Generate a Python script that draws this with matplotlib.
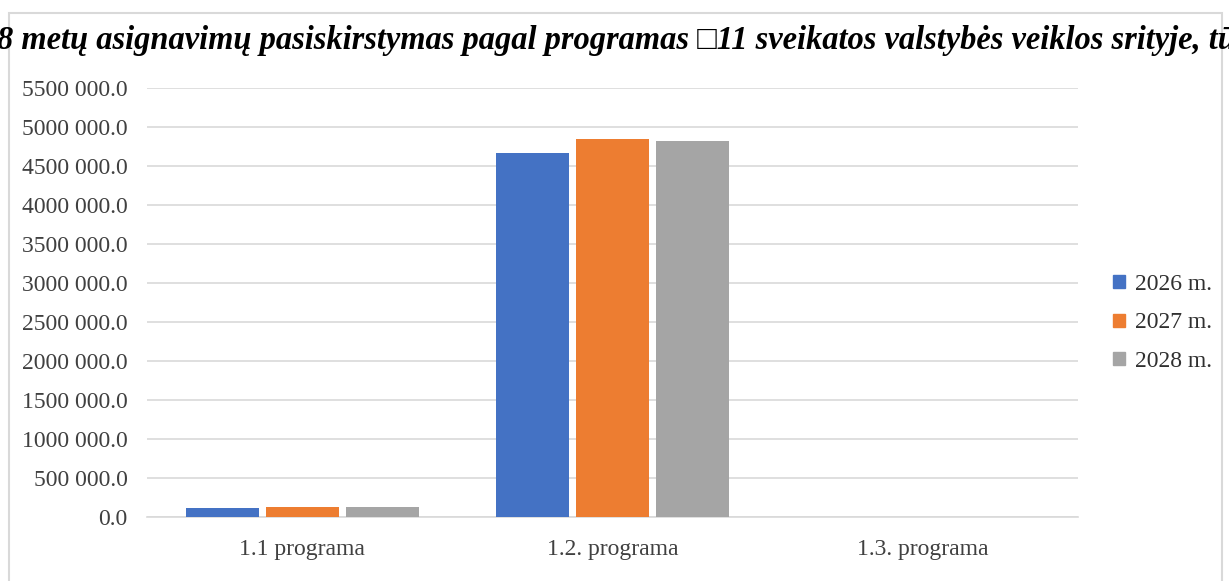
import numpy as np
import matplotlib
matplotlib.use('Agg')
import matplotlib.pyplot as plt
from matplotlib.patches import Rectangle, Patch

# DATOS
programos = ['1.1 programa', '1.2. programa', '1.3. programa']
metai = ['2026 m.', '2027 m.', '2028 m.']
v2026 = [110000, 4665000, 0]
v2027 = [130000, 4845000, 0]
v2028 = [130000, 4822000, 0]
yticks = [0, 500000, 1000000, 1500000, 2000000, 2500000, 3000000,
          3500000, 4000000, 4500000, 5000000, 5500000]
yticklabels = ['0.0', '500 000.0', '1000 000.0', '1500 000.0', '2000 000.0',
               '2500 000.0', '3000 000.0', '3500 000.0', '4000 000.0',
               '4500 000.0', '5000 000.0', '5500 000.0']
titulo = ('2026–2028 metų asignavimų pasiskirstymas pagal programas '
          '□11 sveikatos valstybės veiklos srityje, tūkst. Eur')
colores = ['#4472C4', '#ED7D31', '#A5A5A5']

plt.rcParams['font.family'] = ['Liberation Serif', 'DejaVu Serif']

W, H = 1229, 581
fig = plt.figure(figsize=(W/100, H/100), dpi=100)
ax = fig.add_axes([147/W, 1 - 517/H, (1078-147)/W, (517-88)/H])

# marco del gráfico
fig.patches.append(Rectangle((9/W, -0.05), (1222-9)/W, 1.05 - 13/H,
                             transform=fig.transFigure, fill=False,
                             edgecolor='#d9d9d9', linewidth=1.5))

x = np.arange(len(programos))
ancho = 0.235
paso = 0.258
series = [v2026, v2027, v2028]
for i, serie in enumerate(series):
    ax.bar(x + (i-1)*paso, serie, ancho, color=colores[i], zorder=3)

ax.set_xlim(-0.5, 2.5)
ax.set_ylim(0, 5500000)
ax.set_yticks(yticks)
ax.set_yticklabels(yticklabels)
ax.set_xticks(x)
ax.set_xticklabels(programos)
ax.tick_params(axis='y', length=0, pad=14, labelsize=17, labelcolor='#404040')
ax.tick_params(axis='x', length=0, pad=16, labelsize=17, labelcolor='#404040')
ax.grid(axis='y', color='#d9d9d9', linewidth=1.2, zorder=0)
for s in ['top', 'right', 'left']:
    ax.spines[s].set_visible(False)
ax.spines['bottom'].set_color('#d9d9d9')
ax.spines['bottom'].set_linewidth(1.2)

manijas = [Patch(color=c) for c in colores]
fig.legend(manijas, metai, loc='center left',
           bbox_to_anchor=(1092/W, 1 - 323/H), frameon=False,
           fontsize=17, handlelength=0.48, handleheight=0.48,
           handletextpad=0.45, labelspacing=0.75, labelcolor='#303030')

# título recortado: "8 metų" empieza en el borde izquierdo
# y "tū" queda cortado en el borde derecho
props = dict(fontweight='bold', fontstyle='italic')
fig.canvas.draw()
r = fig.canvas.get_renderer()
t = fig.text(0, 0.93, '8 metų asignavimų pasiskirstymas pagal programas '
             '□11 sveikatos valstybės veiklos srityje, t', fontsize=20, **props)
w_vis = t.get_window_extent(r).width
t.remove()
tam = 20 * 1223 / w_vis
t = fig.text(0, 0.93, '2026–202', fontsize=tam, **props)
w = t.get_window_extent(r).width
t.remove()
fig.text(-(w + 3)/W, 1 - 40/H, titulo, va='center', ha='left',
         fontsize=tam, **props)

fig.savefig('out.png', dpi=100)
